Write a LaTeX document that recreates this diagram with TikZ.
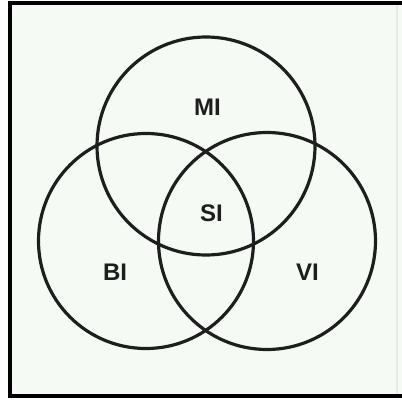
\documentclass[tikz,border=0pt]{standalone}
\usepackage{fontspec}
\setmainfont{Liberation Sans}
\definecolor{paper}{HTML}{F5FAF5}
\definecolor{ink}{HTML}{1E1E1E}
\definecolor{edge}{HTML}{E6EAE6}
\begin{document}
\begin{tikzpicture}[x=1pt,y=-1pt,
  ring/.style={draw=ink,line width=3.2pt},
  lbl/.style={font=\fontsize{24}{24}\selectfont\bfseries,text=ink,inner sep=0pt}]
\useasboundingbox (0,0) rectangle (402,402);
\fill[white] (0,0) rectangle (402,402);
\fill[black] (8,0.5) rectangle (402,398);
\fill[paper] (11.5,5) rectangle (402,394);
\fill[edge] (396,5) rectangle (397.5,394);
\draw[ring] (206,146) circle (109);
\draw[ring] (146,241) circle (107.5);
\draw[ring] (267,241) circle (108.5);
\node[lbl] (mi) at (207.5,107) {MI};
\node[lbl] (si) at (211.5,213.5) {SI};
\node[lbl] (bi) at (115,272) {BI};
\node[lbl] (vi) at (307.5,272) {VI};
\end{tikzpicture}
\end{document}
